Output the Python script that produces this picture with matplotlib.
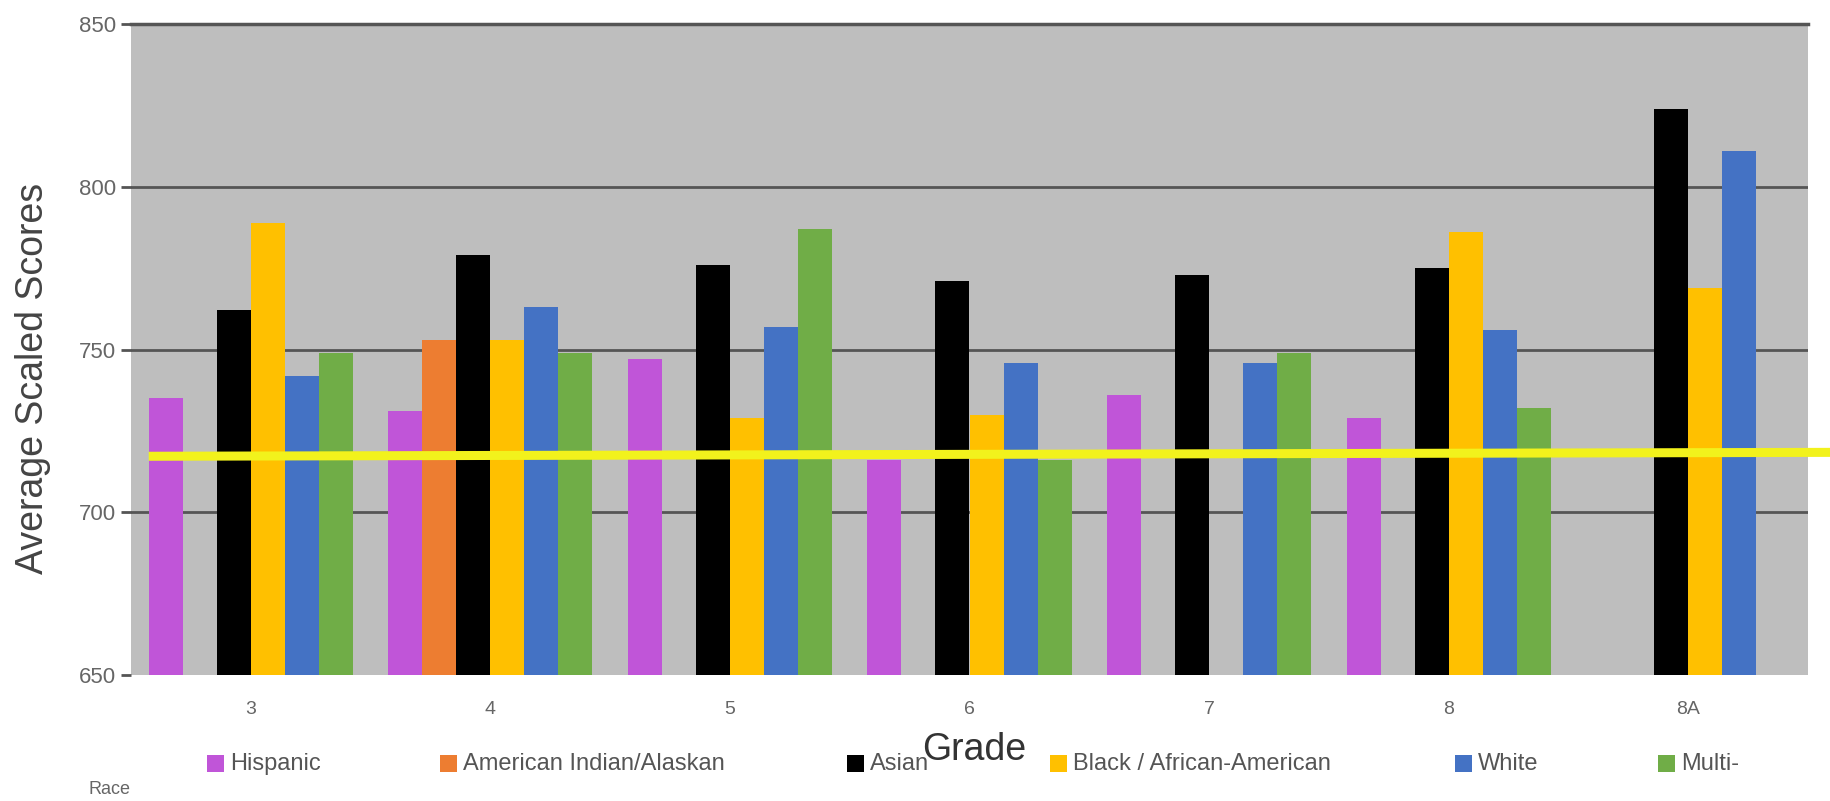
import matplotlib.pyplot as plt
import numpy as np
from matplotlib.patches import Rectangle

W, H = 1830, 801

GRADES = ["3", "4", "5", "6", "7", "8", "8A"]
SERIES = ["Hispanic", "American Indian/Alaskan", "Asian", "Black / African-American", "White", "Multi-"]
COLORS = ["#C055D8", "#ED7D31", "#000000", "#FFC000", "#4472C4", "#70AD47"]

nan = np.nan
HISPANIC = [735, 731, 747, 716, 736, 729, nan]
AM_INDIAN = [nan, 753, nan, nan, nan, nan, nan]
ASIAN = [762, 779, 776, 771, 773, 775, 824]
BLACK = [789, 753, 729, 730, nan, 786, 769]
WHITE = [742, 763, 757, 746, 746, 756, 811]
MULTI = [749, 749, 787, 716, 749, 732, nan]

# hand-drawn yellow reference line (left end, right end)
BENCHMARK = [717.2, 718.4]

Y_TICKS = [650, 700, 750, 800, 850]

# legend item positions in pixels (left edge of the swatch)
LEGEND_X = [207, 440, 847, 1050, 1455, 1658]
LEGEND_Y = 764

FONT = "Liberation Sans"


def px(x, y):
    return x / W, 1 - y / H


fig = plt.figure(figsize=(W / 100, H / 100), dpi=100)
fig.patch.set_facecolor("white")
left, right, top, bottom = 131, 1808, 24, 675
ax = fig.add_axes([left / W, 1 - bottom / H, (right - left) / W, (bottom - top) / H])
ax.set_facecolor("#BEBEBE")

values = [HISPANIC, AM_INDIAN, ASIAN, BLACK, WHITE, MULTI]
x = np.arange(len(GRADES))
bar_w = 0.142
for i, (vals, color) in enumerate(zip(values, COLORS)):
    offs = (i - 2.5) * bar_w
    vals = np.array(vals, dtype=float)
    ax.bar(x + offs, vals - 650, bottom=650, width=bar_w, color=color, zorder=3, linewidth=0)

ax.set_xlim(-0.5, len(GRADES) - 0.5)
ax.set_ylim(650, 850)
ax.set_yticks(Y_TICKS)
ax.set_xticks(x)
ax.set_xticklabels(GRADES)
ax.tick_params(axis="x", length=0, pad=19, labelsize=14, labelcolor="#666666")
ax.tick_params(axis="y", length=7, width=2, color="#555555", pad=4, labelsize=16, labelcolor="#666666")
for lbl in ax.get_xticklabels() + ax.get_yticklabels():
    lbl.set_fontfamily(FONT)

ax.yaxis.grid(True, color="#555555", linewidth=2, zorder=1)
ax.set_axisbelow(True)
ax.get_ygridlines()[0].set_visible(False)
for name, sp in ax.spines.items():
    sp.set_visible(name == "top")
ax.spines["top"].set_color("#555555")
ax.spines["top"].set_linewidth(2.5)

# yellow line from first bar to the figure edge
x_start = -2.5 * bar_w - bar_w / 2
x_end = (len(GRADES) - 0.5) + (W - right) / (right - left) * len(GRADES)
ax.plot([x_start, x_end], BENCHMARK, color="#F2F21C", linewidth=6.5, zorder=5,
        clip_on=False, solid_capstyle="butt")

fig.text(*px(33, 378), "Average Scaled Scores", rotation=90, ha="center", va="center",
         fontsize=27, color="#444444", fontfamily=FONT)

for lx, name, color in zip(LEGEND_X, SERIES, COLORS):
    fx, fy = px(lx, LEGEND_Y + 8)
    fig.patches.append(Rectangle((fx, fy), 17 / W, 17 / H, transform=fig.transFigure,
                                 facecolor=color, edgecolor="none"))
    fig.text(*px(lx + 23, LEGEND_Y), name, ha="left", va="center", fontsize=17,
             color="#555555", fontfamily=FONT)

fig.text(*px(974, 750), "Grade", ha="center", va="center", fontsize=27,
         color="#333333", fontfamily=FONT)
fig.text(*px(88, 789), "Race", ha="left", va="center", fontsize=13,
         color="#666666", fontfamily=FONT)

fig.savefig("out.png", dpi=100, facecolor="white")
